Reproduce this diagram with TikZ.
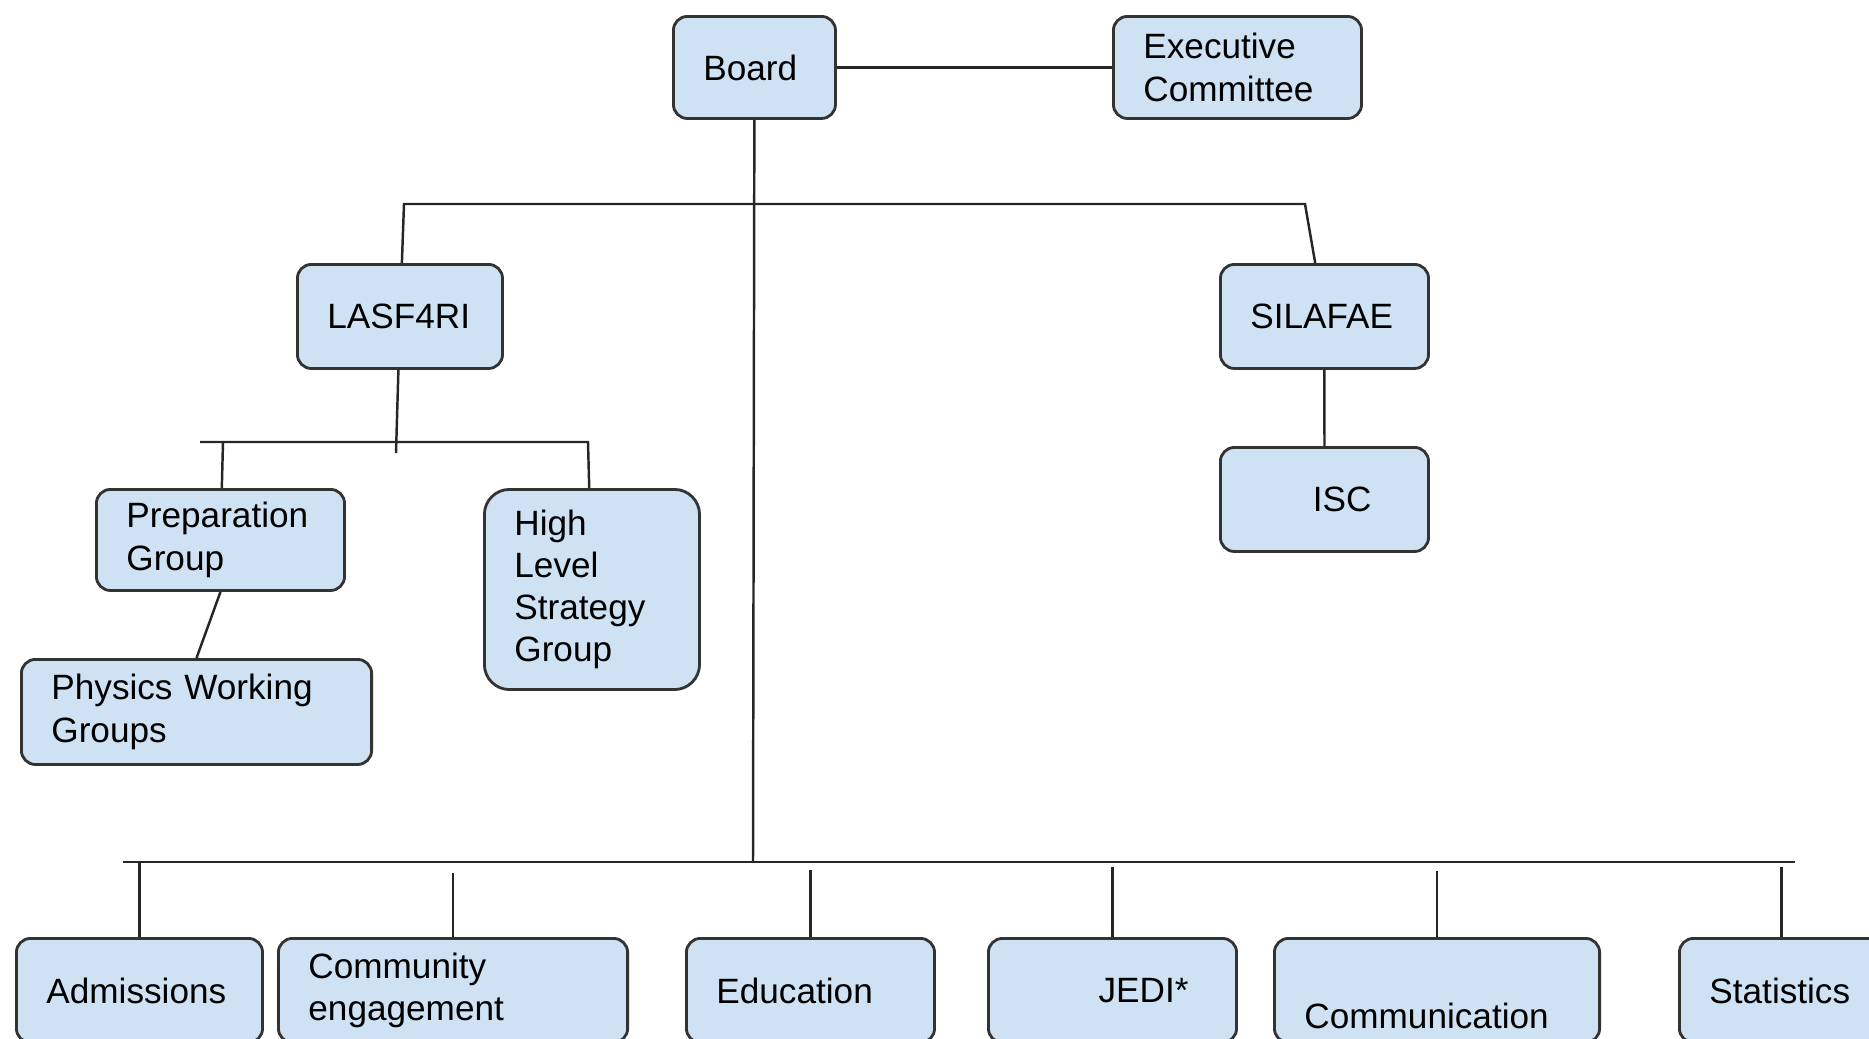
\documentclass[tikz,border=0pt]{standalone}
\usepackage{fontspec}
\setmainfont{Liberation Sans}
\definecolor{unitblue}{HTML}{CFE2F3}
\definecolor{unitline}{HTML}{333333}
\tikzset{
  unit/.style={draw=unitline, fill=unitblue, line width=0.8pt, rounded corners=0.14cm,
    anchor=north west, align=left, inner xsep=0.3cm, inner ysep=0pt,
    font=\fontsize{10}{12}\selectfont},
  link/.style={draw=black!85, line width=0.7pt}
}
\begin{document}
\begin{tikzpicture}[x=0.01cm,y=-0.01cm]
\useasboundingbox (0,0) rectangle (1869,1038);
\clip (0,0) rectangle (1869,1038);
    % top
    \node[unit, text width=1.02cm, minimum height=1.02cm] (board) at (672,15) {Board};
    \node[unit, text width=1.88cm, minimum height=1.02cm] (exec) at (1112,15) {Executive\\Committee};
    % middle
    \node[unit, text width=1.45cm, minimum height=1.04cm] (las) at (296,263) {LASF4RI};
    \node[unit, text width=1.48cm, minimum height=1.04cm] (sil) at (1219,263) {SILAFAE};
    \node[unit, text width=1.88cm, minimum height=1.01cm] (prep) at (95,488) {Preparation\\Group};
    \node[unit, text width=1.55cm, minimum height=2.00cm, rounded corners=0.25cm] (hlsg) at (483,488) {High\\Level\\Strategy\\Group};
    \node[unit, text width=2.90cm, minimum height=1.05cm] (phys) at (20,658) {Physics Working\\Groups};
    \node[unit, text width=0.94cm, inner xsep=0.57cm, align=right, minimum height=1.04cm] (isc) at (1219,446) {ISC};
    % bottom row
    \node[unit, text width=1.86cm, minimum height=1.04cm] (adm) at (15,937) {Admissions};
    \node[unit, text width=2.89cm, minimum height=1.04cm] (comm) at (277,937) {Community\\engagement};
    \node[unit, text width=1.88cm, minimum height=1.04cm] (edu) at (685,937) {Education};
    \node[unit, text width=1.52cm, inner xsep=0.48cm, align=right, minimum height=1.04cm] (jedi) at (987,937) {JEDI*};
    \node[unit, text width=2.65cm, minimum height=1.04cm] (cmm) at (1273,937) {\mbox{}\\[9.6pt]Communication};
    \node[unit, text width=1.44cm, minimum height=1.04cm] (stat) at (1678,937) {Statistics};
    % bends and buses
    \coordinate (lasbend) at (404,204);
    \coordinate (silbend) at (1305,204);
    \coordinate (lasfoot) at (396,453);
    \coordinate (lasleft) at (200,442);
    \coordinate (lasright) at (588,442);
    \coordinate (prepknee) at (223,442);
    \coordinate (hub) at (753,862);
    \coordinate (busleft) at (123,862);
    \coordinate (busright) at (1795,862);
    \draw[link] (board) -- (exec);
    \draw[link] (board) -- (hub);
    \draw[link] (las) -- (lasbend) -- (silbend) -- (sil);
    \draw[link] (las) -- (lasfoot);
    \draw[link] (lasleft) -- (lasright) -- (hlsg);
    \draw[link] (prepknee) -- (prep);
    \draw[link] (prep.south) -- (phys.north);
    \draw[link] (sil) -- (isc);
    \draw[link] (busleft) -- (busright);
    \draw[link] (adm) -- (adm |- busleft);
    \draw[link, shorten >=0.11cm] (comm) -- (comm |- busleft);
    \draw[link, shorten >=0.08cm] (edu) -- (edu |- busleft);
    \draw[link, shorten >=0.05cm] (jedi) -- (jedi |- busleft);
    \draw[link, shorten >=0.09cm] (cmm) -- (cmm |- busleft);
    \draw[link, shorten >=0.05cm] (stat) -- (stat |- busleft);
\end{tikzpicture}
\end{document}
